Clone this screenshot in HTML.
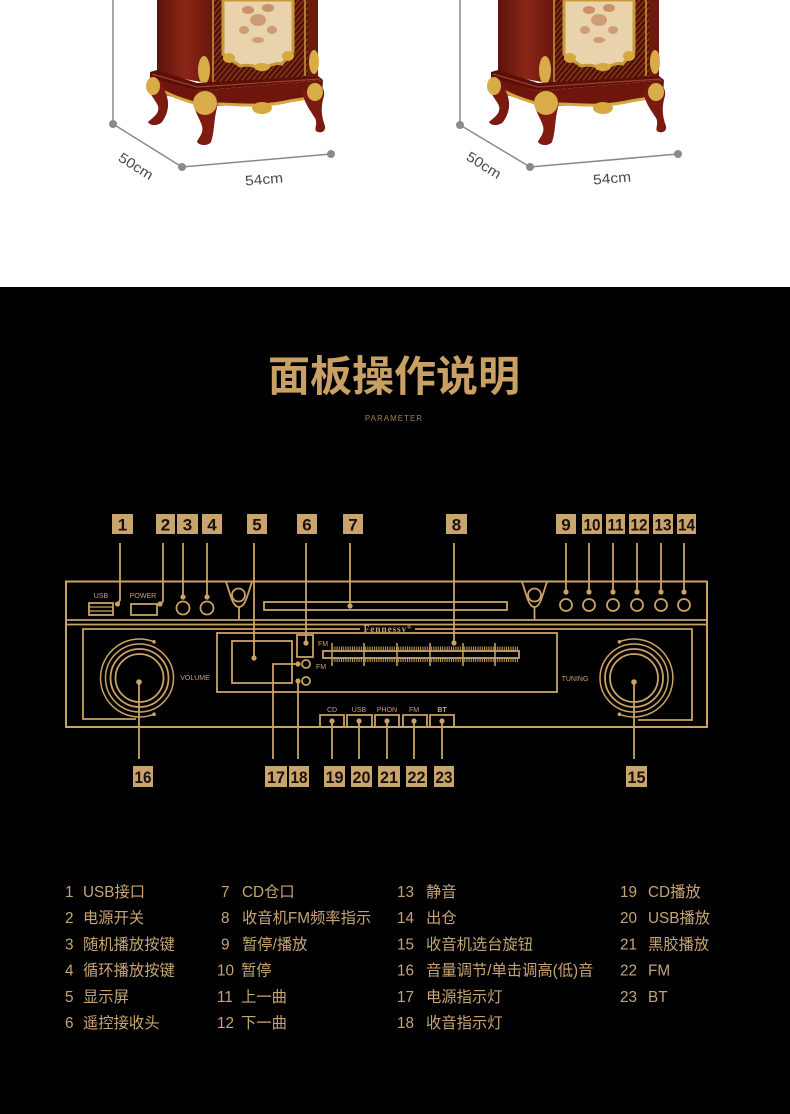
<!DOCTYPE html>
<html><head><meta charset="utf-8">
<style>
html,body{margin:0;padding:0;background:#000;}
body{width:790px;height:1114px;overflow:hidden;}
svg{display:block;}
.lg{font-family:"Liberation Sans","Noto Sans CJK SC",sans-serif;font-size:15.3px;fill:#c7a474;}
.nb{font-family:"Liberation Sans",sans-serif;font-weight:bold;font-size:17px;fill:#1a120a;}
.sm{font-family:"Liberation Sans",sans-serif;font-size:7px;fill:#c9a266;}
.dim{font-family:"Liberation Sans",sans-serif;font-size:14px;fill:#4a4a4a;}
</style></head>
<body>
<svg width="790" height="1114" viewBox="0 0 790 1114" xmlns="http://www.w3.org/2000/svg">
<defs>
  <linearGradient id="sideG" x1="0" x2="1" y1="0" y2="0">
    <stop offset="0" stop-color="#5c120b"/>
    <stop offset="0.5" stop-color="#8a2616"/>
    <stop offset="1" stop-color="#6a170e"/>
  </linearGradient>
  <pattern id="vn" width="4" height="4" patternUnits="userSpaceOnUse" patternTransform="rotate(40)">
    <rect width="4" height="4" fill="#4a1109"/>
    <rect width="1.6" height="4" fill="#8a3418"/>
  </pattern>
  <pattern id="tk" width="2.2" height="5" patternUnits="userSpaceOnUse">
    <rect x="0" y="0" width="1" height="5" fill="#c9a266"/>
  </pattern>
  <g id="furn">
    <polygon points="157,0 212,0 212,84 157,74" fill="url(#sideG)"/>
    <polygon points="212,0 308,0 308,78 212,84" fill="url(#vn)"/>
    <path d="M223,0 H293 V52 C290,58 284,60 282,64 C276,62 268,66 262,70 C256,66 248,64 240,66 C236,62 228,60 223,54 Z" fill="#e9d3ad" stroke="#c99a3a" stroke-width="3"/>
    <ellipse cx="248" cy="10" rx="6" ry="4" fill="#b4673f" opacity="0.6"/>
    <ellipse cx="268" cy="8" rx="6" ry="4" fill="#b4673f" opacity="0.6"/>
    <ellipse cx="258" cy="20" rx="8" ry="6" fill="#b4673f" opacity="0.5"/>
    <ellipse cx="244" cy="30" rx="5" ry="4" fill="#b4673f" opacity="0.5"/>
    <ellipse cx="272" cy="30" rx="5" ry="4" fill="#b4673f" opacity="0.5"/>
    <ellipse cx="258" cy="40" rx="6" ry="3" fill="#b4673f" opacity="0.5"/>
    <ellipse cx="229" cy="58" rx="6" ry="5" fill="#d6a840"/>
    <ellipse cx="288" cy="56" rx="6" ry="5" fill="#d6a840"/>
    <ellipse cx="262" cy="67" rx="8" ry="4" fill="#d6a840"/>
    <polygon points="308,0 318,0 318,76 308,78" fill="#6e1a0f"/>
    <ellipse cx="314" cy="62" rx="5" ry="12" fill="#d8ac48"/>
    <ellipse cx="204" cy="70" rx="6" ry="14" fill="#d8ac48"/>
    <line x1="213" y1="0" x2="213" y2="82" stroke="#c8983a" stroke-width="1.5"/>
    <line x1="305" y1="0" x2="305" y2="76" stroke="#c8983a" stroke-width="1.5"/>
    <polygon points="150,72 157,70 197,83 318,76 323,80 197,91 150,78" fill="#5a0f08"/>
    <polyline points="152,74 197,87 320,79" fill="none" stroke="#a0402a" stroke-width="1.2"/>
    <polygon points="152,78 197,91 323,80 322,96 262,104 215,106 197,104 155,92" fill="#6f160c"/>
    <path d="M158,88 C170,96 185,100 197,104 M215,104 C240,104 260,108 290,101 C300,99 312,98 322,95" fill="none" stroke="#d6a840" stroke-width="3"/>
    <ellipse cx="262" cy="108" rx="10" ry="6" fill="#d6a840"/>
    <path d="M148,80 C146,92 156,100 158,106 C160,114 152,118 148,122 C150,126 158,126 162,122 C168,114 170,104 166,94 C164,88 162,84 160,80 Z" fill="#7a1a10"/>
    <ellipse cx="153" cy="86" rx="7" ry="9" fill="#d8ac48"/>
    <path d="M194,96 C192,110 200,118 202,126 C204,134 198,138 197,142 C200,146 208,146 211,142 C214,134 214,122 216,112 C218,104 218,98 216,94 Z" fill="#7f1b10"/>
    <ellipse cx="205" cy="103" rx="12" ry="12" fill="#d8ac48"/>
    <path d="M303,90 C302,100 310,110 315,118 C318,124 314,128 316,131 C320,134 326,132 325,126 C322,118 320,108 324,96 C325,90 322,86 320,86 Z" fill="#7a1a10"/>
    <ellipse cx="315" cy="92" rx="8" ry="9" fill="#d8ac48"/>
  </g>
</defs>

<!-- top white area -->
<rect x="0" y="0" width="790" height="287" fill="#ffffff"/>
<rect x="0" y="287" width="790" height="827" fill="#000000"/>

<use href="#furn"/>
<use href="#furn" transform="translate(341,0)"/>

<!-- dimension lines -->
<g stroke="#8a8a8a" stroke-width="1.5" fill="none">
  <polyline points="113,0 113,124 182,167 331,154"/>
  <polyline points="460,0 460,125 530,167 678,154"/>
</g>
<g fill="#8a8a8a">
  <circle cx="113" cy="124" r="4"/><circle cx="182" cy="167" r="4"/><circle cx="331" cy="154" r="4"/>
  <circle cx="460" cy="125" r="4"/><circle cx="530" cy="167" r="4"/><circle cx="678" cy="154" r="4"/>
</g>
<text class="dim" x="136" y="171" text-anchor="middle" transform="rotate(32 136 166)" textLength="38" lengthAdjust="spacingAndGlyphs">50cm</text>
<text class="dim" x="264" y="184" text-anchor="middle" transform="rotate(-5 264 179)" textLength="38" lengthAdjust="spacingAndGlyphs">54cm</text>
<text class="dim" x="484" y="170" text-anchor="middle" transform="rotate(32 484 165)" textLength="38" lengthAdjust="spacingAndGlyphs">50cm</text>
<text class="dim" x="612" y="183" text-anchor="middle" transform="rotate(-5 612 178)" textLength="38" lengthAdjust="spacingAndGlyphs">54cm</text>

<!-- title -->
<text x="394" y="391" text-anchor="middle" font-family="'Noto Sans CJK SC','WenQuanYi Zen Hei',sans-serif" font-weight="bold" font-size="42" fill="#c9a064">面板操作说明</text>
<text x="394" y="421" text-anchor="middle" font-family="'Liberation Sans',sans-serif" font-size="8" letter-spacing="1" fill="#a08050">PARAMETER</text>

<!-- diagram -->
<g stroke="#c9a266" stroke-width="1.8" fill="none">
  <rect x="66" y="581.5" width="641" height="145.5" stroke-width="2"/>
  <line x1="66" y1="620" x2="707" y2="620"/>
  <line x1="66" y1="624.5" x2="707" y2="624.5"/>
  <path d="M360,629 H83 V719 H136 M415,629 H692 V720 H638"/>
  <!-- funnels -->
  <path d="M226,582 C230,592 232,607 239,607 C246,607 248,592 252,582"/>
  <circle cx="238.5" cy="595" r="6.5"/>
  <line x1="239" y1="607" x2="239" y2="620"/>
  <path d="M522,582 C526,592 528,607 534.5,607 C541,607 543,592 547,582"/>
  <circle cx="534.5" cy="595" r="6.5"/>
  <line x1="534.5" y1="607" x2="534.5" y2="620"/>
  <!-- usb + power -->
  <rect x="89" y="603" width="24" height="12"/>
  <line x1="89" y1="607" x2="113" y2="607" stroke-width="1.2"/>
  <line x1="89" y1="611" x2="113" y2="611" stroke-width="1.2"/>
  <rect x="131" y="604" width="26" height="11"/>
  <!-- buttons -->
  <circle cx="183" cy="608" r="6.5"/>
  <circle cx="207" cy="608" r="6.5"/>
  <circle cx="566" cy="605" r="6"/>
  <circle cx="589" cy="605" r="6"/>
  <circle cx="613" cy="605" r="6"/>
  <circle cx="637" cy="605" r="6"/>
  <circle cx="661" cy="605" r="6"/>
  <circle cx="684" cy="605" r="6"/>
  <!-- cd slot -->
  <rect x="264" y="602" width="243" height="8"/>
  <!-- display -->
  <rect x="217" y="633" width="340" height="59"/>
  <rect x="232" y="641" width="60" height="42"/>
  <rect x="297" y="635" width="16" height="22"/>
  <circle cx="306" cy="664" r="4"/>
  <circle cx="306" cy="681" r="4"/>
  <!-- tuning bar -->
  <rect x="323" y="651" width="196" height="7"/>
  <g stroke-width="1.5">
    <line x1="332" y1="643" x2="332" y2="666"/>
    <line x1="364" y1="643" x2="364" y2="666"/>
    <line x1="397" y1="643" x2="397" y2="666"/>
    <line x1="430" y1="643" x2="430" y2="666"/>
    <line x1="463" y1="643" x2="463" y2="666"/>
    <line x1="495" y1="643" x2="495" y2="666"/>
  </g>
  <!-- knobs -->
  <circle cx="139.5" cy="678" r="24"/>
  <circle cx="139.5" cy="678" r="29"/>
  <circle cx="139.5" cy="678" r="34" stroke-width="1.5"/>
  <path d="M154,641.8 A39,39 0 1,0 154,714.2" stroke-width="1.5"/>
  <circle cx="634" cy="678" r="24"/>
  <circle cx="634" cy="678" r="29"/>
  <circle cx="634" cy="678" r="34" stroke-width="1.5"/>
  <path d="M619.4,641.8 A39,39 0 1,1 619.4,714.2" stroke-width="1.5"/>
  <!-- bottom buttons -->
  <path d="M320,727 V715 H344 V727 M347,727 V715 H372 V727 M375,727 V715 H399 V727 M403,727 V715 H427 V727 M430,727 V715 H454 V727"/>
  <!-- leaders top -->
  <path d="M120,543 V600 L118,604"/>
  <path d="M163,543 V601 L161,604"/>
  <line x1="183" y1="543" x2="183" y2="597"/>
  <line x1="207" y1="543" x2="207" y2="597"/>
  <line x1="254" y1="543" x2="254" y2="658"/>
  <line x1="306" y1="543" x2="306" y2="643"/>
  <line x1="350" y1="543" x2="350" y2="606"/>
  <line x1="454" y1="543" x2="454" y2="643"/>
  <line x1="566" y1="543" x2="566" y2="592"/>
  <line x1="589" y1="543" x2="589" y2="592"/>
  <line x1="613" y1="543" x2="613" y2="592"/>
  <line x1="637" y1="543" x2="637" y2="592"/>
  <line x1="661" y1="543" x2="661" y2="592"/>
  <line x1="684" y1="543" x2="684" y2="592"/>
  <!-- leaders bottom -->
  <line x1="139" y1="682" x2="139" y2="759"/>
  <path d="M298,664 H273 V759"/>
  <line x1="298" y1="681" x2="298" y2="759"/>
  <line x1="332" y1="721" x2="332" y2="759"/>
  <line x1="359" y1="721" x2="359" y2="759"/>
  <line x1="387" y1="721" x2="387" y2="759"/>
  <line x1="414" y1="721" x2="414" y2="759"/>
  <line x1="442" y1="721" x2="442" y2="759"/>
  <line x1="634" y1="682" x2="634" y2="759"/>
</g>
<rect x="333" y="646.5" width="185" height="4.5" fill="url(#tk)"/>
<rect x="333" y="658" width="185" height="4" fill="url(#tk)"/>

<!-- dots -->
<g fill="#c9a266">
  <circle cx="117.5" cy="604" r="2.6"/>
  <circle cx="160" cy="604" r="2.6"/>
  <circle cx="183" cy="597" r="2.6"/>
  <circle cx="207" cy="597" r="2.6"/>
  <circle cx="254" cy="658" r="2.6"/>
  <circle cx="306" cy="643" r="2.6"/>
  <circle cx="350" cy="606" r="2.6"/>
  <circle cx="454" cy="643" r="2.6"/>
  <circle cx="566" cy="592" r="2.6"/>
  <circle cx="589" cy="592" r="2.6"/>
  <circle cx="613" cy="592" r="2.6"/>
  <circle cx="637" cy="592" r="2.6"/>
  <circle cx="661" cy="592" r="2.6"/>
  <circle cx="684" cy="592" r="2.6"/>
  <circle cx="139" cy="682" r="2.8"/>
  <circle cx="634" cy="682" r="2.8"/>
  <circle cx="298" cy="664" r="2.6"/>
  <circle cx="298" cy="681" r="2.6"/>
  <circle cx="332" cy="721" r="2.6"/>
  <circle cx="359" cy="721" r="2.6"/>
  <circle cx="387" cy="721" r="2.6"/>
  <circle cx="414" cy="721" r="2.6"/>
  <circle cx="442" cy="721" r="2.6"/>
  <circle cx="154" cy="641.8" r="1.8"/>
  <circle cx="154" cy="714.2" r="1.8"/>
  <circle cx="619.4" cy="641.8" r="1.8"/>
  <circle cx="619.4" cy="714.2" r="1.8"/>
</g>

<!-- small labels -->
<text class="sm" x="101" y="598" text-anchor="middle">USB</text>
<text class="sm" x="143" y="598" text-anchor="middle">POWER</text>
<text class="sm" x="318" y="646" font-size="5">FM</text>
<text class="sm" x="316" y="669" font-size="5">FM</text>
<text class="sm" x="195" y="680" text-anchor="middle">VOLUME</text>
<text class="sm" x="575" y="681" text-anchor="middle">TUNING</text>
<text class="sm" x="332" y="712" text-anchor="middle">CD</text>
<text class="sm" x="359" y="712" text-anchor="middle">USB</text>
<text class="sm" x="387" y="712" text-anchor="middle">PHON</text>
<text class="sm" x="414" y="712" text-anchor="middle">FM</text>
<text class="sm" x="442" y="712" text-anchor="middle" font-weight="bold">BT</text>
<text x="388" y="632" text-anchor="middle" font-family="'Liberation Serif',serif" font-weight="bold" font-size="9.5" letter-spacing="0.8" fill="#c9a266">Fennessy<tspan font-size="6" dy="-3">®</tspan></text>

<!-- number boxes -->
<g fill="#c9a46e">
  <rect x="112" y="514" width="21" height="20"/>
  <rect x="156" y="514" width="19" height="20"/>
  <rect x="177" y="514" width="21" height="20"/>
  <rect x="202" y="514" width="20" height="20"/>
  <rect x="247" y="514" width="20" height="20"/>
  <rect x="297" y="514" width="20" height="20"/>
  <rect x="343" y="514" width="20" height="20"/>
  <rect x="446" y="514" width="21" height="20"/>
  <rect x="556" y="514" width="20" height="20"/>
  <rect x="582" y="514" width="20" height="20"/>
  <rect x="606" y="514" width="19" height="20"/>
  <rect x="629" y="514" width="20" height="20"/>
  <rect x="653" y="514" width="20" height="20"/>
  <rect x="677" y="514" width="19" height="20"/>
  <rect x="133" y="766" width="20" height="21"/>
  <rect x="265" y="766" width="22" height="21"/>
  <rect x="289" y="766" width="20" height="21"/>
  <rect x="324" y="766" width="21" height="21"/>
  <rect x="351" y="766" width="21" height="21"/>
  <rect x="378" y="766" width="22" height="21"/>
  <rect x="406" y="766" width="21" height="21"/>
  <rect x="434" y="766" width="20" height="21"/>
  <rect x="626" y="766" width="21" height="21"/>
</g>
<g class="nb" text-anchor="middle">
  <text x="122.5" y="530.5">1</text>
  <text x="165.5" y="530.5">2</text>
  <text x="187.5" y="530.5">3</text>
  <text x="212" y="530.5">4</text>
  <text x="257" y="530.5">5</text>
  <text x="307" y="530.5">6</text>
  <text x="353" y="530.5">7</text>
  <text x="456.5" y="530.5">8</text>
  <text x="566" y="530.5">9</text>
  <text x="592" y="530.5" textLength="17" lengthAdjust="spacingAndGlyphs">10</text>
  <text x="615.5" y="530.5" textLength="16" lengthAdjust="spacingAndGlyphs">11</text>
  <text x="639" y="530.5" textLength="17" lengthAdjust="spacingAndGlyphs">12</text>
  <text x="663" y="530.5" textLength="17" lengthAdjust="spacingAndGlyphs">13</text>
  <text x="686.5" y="530.5" textLength="17" lengthAdjust="spacingAndGlyphs">14</text>
  <text x="143" y="783" textLength="17" lengthAdjust="spacingAndGlyphs">16</text>
  <text x="276" y="783" textLength="18" lengthAdjust="spacingAndGlyphs">17</text>
  <text x="299" y="783" textLength="17" lengthAdjust="spacingAndGlyphs">18</text>
  <text x="334.5" y="783" textLength="18" lengthAdjust="spacingAndGlyphs">19</text>
  <text x="361.5" y="783" textLength="18" lengthAdjust="spacingAndGlyphs">20</text>
  <text x="389" y="783" textLength="18" lengthAdjust="spacingAndGlyphs">21</text>
  <text x="416.5" y="783" textLength="18" lengthAdjust="spacingAndGlyphs">22</text>
  <text x="444" y="783" textLength="17" lengthAdjust="spacingAndGlyphs">23</text>
  <text x="636.5" y="783" textLength="18" lengthAdjust="spacingAndGlyphs">15</text>
</g>

<!-- legend -->
<g class="lg">
  <text x="65" y="897">1</text><text x="83" y="897">USB接口</text>
  <text x="65" y="923">2</text><text x="83" y="923">电源开关</text>
  <text x="65" y="949.5">3</text><text x="83" y="949.5">随机播放按键</text>
  <text x="65" y="975.5">4</text><text x="83" y="975.5">循环播放按键</text>
  <text x="65" y="1002">5</text><text x="83" y="1002">显示屏</text>
  <text x="65" y="1028">6</text><text x="83" y="1028">遥控接收头</text>

  <text x="221" y="897">7</text><text x="242" y="897">CD仓口</text>
  <text x="221" y="923">8</text><text x="242" y="923">收音机FM频率指示</text>
  <text x="221" y="949.5">9</text><text x="242" y="949.5">暂停/播放</text>
  <text x="217" y="975.5">10</text><text x="241" y="975.5">暂停</text>
  <text x="217" y="1002">11</text><text x="241" y="1002">上一曲</text>
  <text x="217" y="1028">12</text><text x="241" y="1028">下一曲</text>

  <text x="397" y="897">13</text><text x="426" y="897">静音</text>
  <text x="397" y="923">14</text><text x="426" y="923">出仓</text>
  <text x="397" y="949.5">15</text><text x="426" y="949.5">收音机选台旋钮</text>
  <text x="397" y="975.5">16</text><text x="426" y="975.5">音量调节/单击调高(低)音</text>
  <text x="397" y="1002">17</text><text x="426" y="1002">电源指示灯</text>
  <text x="397" y="1028">18</text><text x="426" y="1028">收音指示灯</text>

  <text x="620" y="897">19</text><text x="648" y="897">CD播放</text>
  <text x="620" y="923">20</text><text x="648" y="923">USB播放</text>
  <text x="620" y="949.5">21</text><text x="648" y="949.5">黑胶播放</text>
  <text x="620" y="975.5">22</text><text x="648" y="975.5">FM</text>
  <text x="620" y="1002">23</text><text x="648" y="1002">BT</text>
</g>
</svg>
</body></html>
